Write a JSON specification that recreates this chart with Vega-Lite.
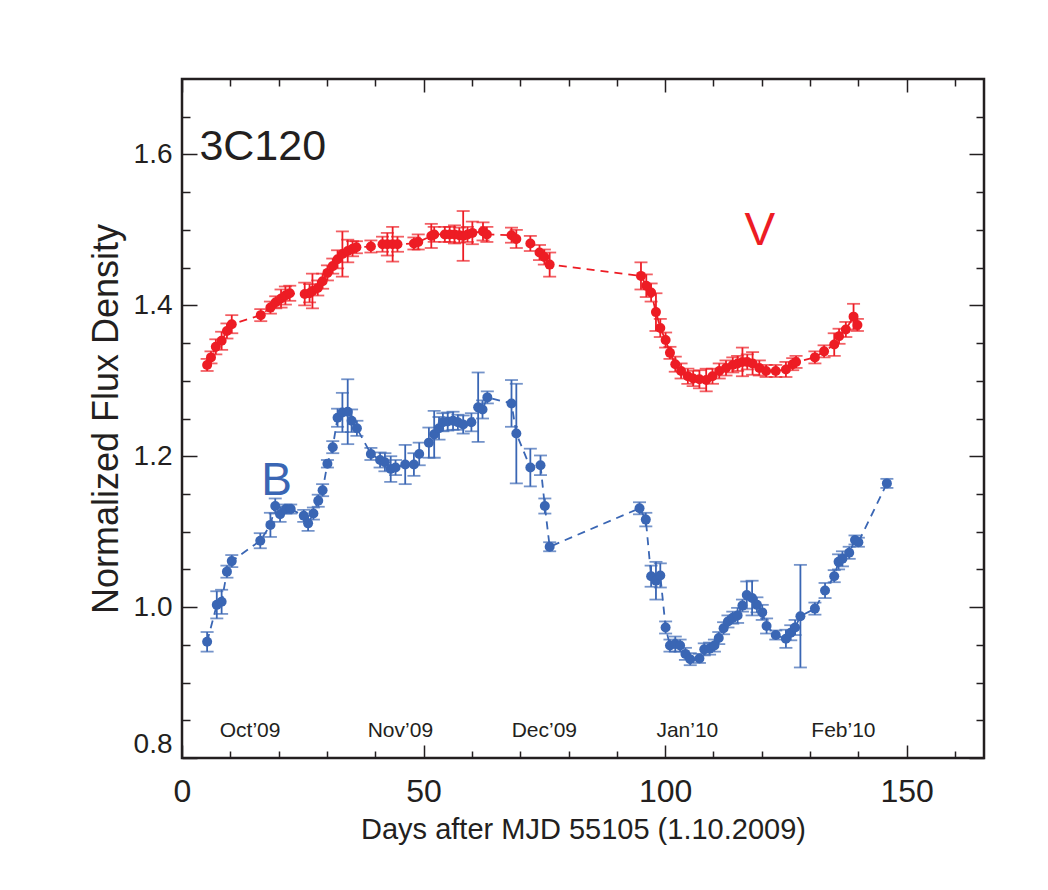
{
  "$schema": "https://vega.github.io/schema/vega-lite/v6.json",
  "width": 802,
  "height": 679,
  "autosize": {"type": "none"},
  "padding": {"left": 182, "top": 79, "right": 64, "bottom": 132},
  "background": "white",
  "config": {
    "view": {"stroke": "#231F20", "strokeWidth": 2.5},
    "font": "Liberation Sans, Arial, sans-serif",
    "axis": {"grid": false, "domain": false, "tickColor": "#231F20", "tickWidth": 1.5, "labelColor": "#231F20", "titleColor": "#231F20", "labelFont": "Liberation Sans, Arial, sans-serif", "titleFont": "Liberation Sans, Arial, sans-serif", "titleFontWeight": "normal"}
  },
  "datasets": {
    "flux": [
      {"s":"V","day":5.2,"val":1.321,"err":0.008},
      {"s":"V","day":6.0,"val":1.331,"err":0.008},
      {"s":"V","day":7.0,"val":1.345,"err":0.010},
      {"s":"V","day":8.2,"val":1.353,"err":0.012},
      {"s":"V","day":9.3,"val":1.366,"err":0.010},
      {"s":"V","day":10.3,"val":1.375,"err":0.012},
      {"s":"V","day":16.3,"val":1.387,"err":0.008},
      {"s":"V","day":18.3,"val":1.397,"err":0.008},
      {"s":"V","day":19.4,"val":1.404,"err":0.008},
      {"s":"V","day":20.5,"val":1.409,"err":0.012},
      {"s":"V","day":21.4,"val":1.413,"err":0.012},
      {"s":"V","day":22.3,"val":1.416,"err":0.010},
      {"s":"V","day":25.4,"val":1.415,"err":0.015},
      {"s":"V","day":26.4,"val":1.416,"err":0.012},
      {"s":"V","day":27.0,"val":1.419,"err":0.023},
      {"s":"V","day":28.1,"val":1.423,"err":0.010},
      {"s":"V","day":29.1,"val":1.432,"err":0.010},
      {"s":"V","day":30.1,"val":1.443,"err":0.010},
      {"s":"V","day":31.2,"val":1.452,"err":0.010},
      {"s":"V","day":32.2,"val":1.461,"err":0.012},
      {"s":"V","day":33.2,"val":1.468,"err":0.030},
      {"s":"V","day":34.3,"val":1.472,"err":0.015},
      {"s":"V","day":35.3,"val":1.475,"err":0.010},
      {"s":"V","day":36.1,"val":1.477,"err":0.008},
      {"s":"V","day":39.1,"val":1.478,"err":0.008},
      {"s":"V","day":41.5,"val":1.481,"err":0.010},
      {"s":"V","day":42.5,"val":1.481,"err":0.015},
      {"s":"V","day":43.6,"val":1.481,"err":0.023},
      {"s":"V","day":44.6,"val":1.481,"err":0.010},
      {"s":"V","day":48.0,"val":1.482,"err":0.008},
      {"s":"V","day":48.9,"val":1.484,"err":0.010},
      {"s":"V","day":51.6,"val":1.492,"err":0.016},
      {"s":"V","day":52.2,"val":1.494,"err":0.010},
      {"s":"V","day":54.4,"val":1.494,"err":0.010},
      {"s":"V","day":55.4,"val":1.494,"err":0.010},
      {"s":"V","day":56.4,"val":1.494,"err":0.012},
      {"s":"V","day":57.4,"val":1.493,"err":0.010},
      {"s":"V","day":58.2,"val":1.492,"err":0.033},
      {"s":"V","day":59.1,"val":1.494,"err":0.010},
      {"s":"V","day":60.1,"val":1.496,"err":0.015},
      {"s":"V","day":62.3,"val":1.498,"err":0.012},
      {"s":"V","day":63.1,"val":1.494,"err":0.010},
      {"s":"V","day":68.2,"val":1.493,"err":0.010},
      {"s":"V","day":69.2,"val":1.488,"err":0.012},
      {"s":"V","day":72.1,"val":1.482,"err":0.010},
      {"s":"V","day":74.0,"val":1.470,"err":0.010},
      {"s":"V","day":75.0,"val":1.464,"err":0.010},
      {"s":"V","day":76.1,"val":1.454,"err":0.016},
      {"s":"V","day":95.0,"val":1.439,"err":0.018},
      {"s":"V","day":96.1,"val":1.426,"err":0.015},
      {"s":"V","day":97.1,"val":1.417,"err":0.012},
      {"s":"V","day":98.1,"val":1.391,"err":0.025},
      {"s":"V","day":99.0,"val":1.370,"err":0.012},
      {"s":"V","day":100.1,"val":1.354,"err":0.010},
      {"s":"V","day":101.0,"val":1.337,"err":0.008},
      {"s":"V","day":102.1,"val":1.322,"err":0.010},
      {"s":"V","day":103.3,"val":1.313,"err":0.010},
      {"s":"V","day":104.7,"val":1.306,"err":0.010},
      {"s":"V","day":105.8,"val":1.303,"err":0.010},
      {"s":"V","day":107.1,"val":1.302,"err":0.012},
      {"s":"V","day":108.5,"val":1.301,"err":0.015},
      {"s":"V","day":109.8,"val":1.306,"err":0.010},
      {"s":"V","day":111.2,"val":1.313,"err":0.010},
      {"s":"V","day":112.6,"val":1.317,"err":0.010},
      {"s":"V","day":114.0,"val":1.321,"err":0.010},
      {"s":"V","day":115.0,"val":1.323,"err":0.010},
      {"s":"V","day":116.0,"val":1.325,"err":0.019},
      {"s":"V","day":117.0,"val":1.325,"err":0.010},
      {"s":"V","day":118.1,"val":1.323,"err":0.015},
      {"s":"V","day":119.5,"val":1.317,"err":0.010},
      {"s":"V","day":120.9,"val":1.313,"err":0.008},
      {"s":"V","day":122.9,"val":1.313,"err":0.008},
      {"s":"V","day":125.0,"val":1.315,"err":0.010},
      {"s":"V","day":126.4,"val":1.322,"err":0.008},
      {"s":"V","day":127.1,"val":1.325,"err":0.008},
      {"s":"V","day":131.0,"val":1.331,"err":0.008},
      {"s":"V","day":132.9,"val":1.339,"err":0.008},
      {"s":"V","day":135.0,"val":1.348,"err":0.015},
      {"s":"V","day":136.0,"val":1.359,"err":0.010},
      {"s":"V","day":137.4,"val":1.368,"err":0.010},
      {"s":"V","day":139.0,"val":1.385,"err":0.017},
      {"s":"V","day":139.8,"val":1.374,"err":0.008},
      {"s":"B","day":5.2,"val":0.954,"err":0.013},
      {"s":"B","day":7.2,"val":1.003,"err":0.018},
      {"s":"B","day":8.2,"val":1.007,"err":0.016},
      {"s":"B","day":9.3,"val":1.047,"err":0.008},
      {"s":"B","day":10.3,"val":1.061,"err":0.008},
      {"s":"B","day":16.2,"val":1.088,"err":0.010},
      {"s":"B","day":18.3,"val":1.109,"err":0.016},
      {"s":"B","day":19.3,"val":1.134,"err":0.010},
      {"s":"B","day":20.3,"val":1.123,"err":0.010},
      {"s":"B","day":21.5,"val":1.130,"err":0.006},
      {"s":"B","day":22.5,"val":1.130,"err":0.006},
      {"s":"B","day":25.2,"val":1.121,"err":0.008},
      {"s":"B","day":26.1,"val":1.111,"err":0.010},
      {"s":"B","day":27.2,"val":1.124,"err":0.008},
      {"s":"B","day":28.2,"val":1.141,"err":0.008},
      {"s":"B","day":29.1,"val":1.155,"err":0.008},
      {"s":"B","day":30.1,"val":1.190,"err":0.005},
      {"s":"B","day":31.2,"val":1.212,"err":0.008},
      {"s":"B","day":32.2,"val":1.251,"err":0.012},
      {"s":"B","day":33.2,"val":1.258,"err":0.026},
      {"s":"B","day":34.3,"val":1.259,"err":0.043},
      {"s":"B","day":35.1,"val":1.247,"err":0.015},
      {"s":"B","day":36.2,"val":1.237,"err":0.010},
      {"s":"B","day":39.1,"val":1.203,"err":0.008},
      {"s":"B","day":41.0,"val":1.195,"err":0.010},
      {"s":"B","day":42.0,"val":1.192,"err":0.012},
      {"s":"B","day":43.2,"val":1.183,"err":0.017},
      {"s":"B","day":44.2,"val":1.185,"err":0.010},
      {"s":"B","day":46.2,"val":1.189,"err":0.026},
      {"s":"B","day":48.0,"val":1.189,"err":0.015},
      {"s":"B","day":49.1,"val":1.203,"err":0.015},
      {"s":"B","day":51.1,"val":1.218,"err":0.020},
      {"s":"B","day":52.2,"val":1.229,"err":0.031},
      {"s":"B","day":53.2,"val":1.237,"err":0.015},
      {"s":"B","day":54.0,"val":1.245,"err":0.012},
      {"s":"B","day":55.0,"val":1.246,"err":0.012},
      {"s":"B","day":56.1,"val":1.247,"err":0.012},
      {"s":"B","day":57.1,"val":1.245,"err":0.010},
      {"s":"B","day":58.2,"val":1.242,"err":0.012},
      {"s":"B","day":59.9,"val":1.245,"err":0.012},
      {"s":"B","day":61.3,"val":1.265,"err":0.046},
      {"s":"B","day":62.2,"val":1.262,"err":0.012},
      {"s":"B","day":63.2,"val":1.278,"err":0.008},
      {"s":"B","day":68.2,"val":1.270,"err":0.031},
      {"s":"B","day":69.2,"val":1.230,"err":0.066},
      {"s":"B","day":72.1,"val":1.185,"err":0.025},
      {"s":"B","day":74.2,"val":1.188,"err":0.013},
      {"s":"B","day":75.1,"val":1.134,"err":0.010},
      {"s":"B","day":76.1,"val":1.080,"err":0.006},
      {"s":"B","day":94.7,"val":1.131,"err":0.008},
      {"s":"B","day":96.0,"val":1.116,"err":0.009},
      {"s":"B","day":97.1,"val":1.041,"err":0.014},
      {"s":"B","day":98.1,"val":1.035,"err":0.025},
      {"s":"B","day":99.0,"val":1.042,"err":0.016},
      {"s":"B","day":100.1,"val":0.973,"err":0.008},
      {"s":"B","day":101.0,"val":0.949,"err":0.008},
      {"s":"B","day":102.1,"val":0.951,"err":0.010},
      {"s":"B","day":103.1,"val":0.949,"err":0.008},
      {"s":"B","day":104.2,"val":0.938,"err":0.008},
      {"s":"B","day":105.2,"val":0.931,"err":0.008},
      {"s":"B","day":107.1,"val":0.932,"err":0.006},
      {"s":"B","day":108.1,"val":0.944,"err":0.008},
      {"s":"B","day":109.2,"val":0.945,"err":0.008},
      {"s":"B","day":110.2,"val":0.949,"err":0.008},
      {"s":"B","day":111.1,"val":0.959,"err":0.008},
      {"s":"B","day":112.1,"val":0.972,"err":0.008},
      {"s":"B","day":113.0,"val":0.981,"err":0.008},
      {"s":"B","day":114.0,"val":0.986,"err":0.008},
      {"s":"B","day":115.0,"val":0.989,"err":0.010},
      {"s":"B","day":116.0,"val":1.002,"err":0.008},
      {"s":"B","day":116.9,"val":1.016,"err":0.018},
      {"s":"B","day":118.0,"val":1.012,"err":0.023},
      {"s":"B","day":119.0,"val":1.003,"err":0.010},
      {"s":"B","day":120.1,"val":0.993,"err":0.010},
      {"s":"B","day":121.0,"val":0.975,"err":0.010},
      {"s":"B","day":122.9,"val":0.963,"err":0.006},
      {"s":"B","day":125.0,"val":0.958,"err":0.012},
      {"s":"B","day":126.0,"val":0.966,"err":0.010},
      {"s":"B","day":126.9,"val":0.973,"err":0.010},
      {"s":"B","day":128.0,"val":0.988,"err":0.068},
      {"s":"B","day":131.0,"val":0.998,"err":0.008},
      {"s":"B","day":133.1,"val":1.022,"err":0.010},
      {"s":"B","day":135.0,"val":1.041,"err":0.008},
      {"s":"B","day":135.9,"val":1.060,"err":0.010},
      {"s":"B","day":136.7,"val":1.064,"err":0.010},
      {"s":"B","day":138.1,"val":1.072,"err":0.008},
      {"s":"B","day":139.3,"val":1.089,"err":0.006},
      {"s":"B","day":140.0,"val":1.086,"err":0.006},
      {"s":"B","day":145.9,"val":1.164,"err":0.006}
    ],
    "months": [
      {"text":"Oct’09","day":14.1,"val":0.828},
      {"text":"Nov’09","day":45.2,"val":0.828},
      {"text":"Dec’09","day":75.0,"val":0.828},
      {"text":"Jan’10","day":104.6,"val":0.828},
      {"text":"Feb’10","day":136.9,"val":0.828}
    ],
    "source": [
      {"text":"3C120","day":3.6,"val":1.593}
    ],
    "bands": [
      {"s":"V","day":119.6,"val":1.480},
      {"s":"B","day":19.6,"val":1.149}
    ]
  },
  "layer": [
    {
      "data": {"name": "flux"},
      "mark": {"type": "errorbar", "ticks": true, "size": 13, "thickness": 1.8},
      "encoding": {
        "x": {"field": "day", "type": "quantitative", "scale": {"domain": [0, 166], "nice": false, "zero": false},
              "axis": {"orient": "bottom", "values": [0, 50, 100, 150], "tickSize": -13, "labelFontSize": 32, "labelFlush": false, "labelPadding": 31, "title": "Days after MJD 55105 (1.10.2009)", "titleFontSize": 29, "titlePadding": 8}},
        "y": {"field": "val", "type": "quantitative", "scale": {"domain": [0.8, 1.7], "nice": false, "zero": false},
              "axis": {"orient": "left", "values": [0.8, 1.0, 1.2, 1.4, 1.6], "format": ".1f", "tickSize": -15, "labelFontSize": 28, "labelPadding": 25, "labelFlush": true, "title": "Normalized Flux Density", "titleFontSize": 36, "titlePadding": 8}},
        "yError": {"field": "err"},
        "color": {"field": "s", "type": "nominal", "scale": {"domain": ["V", "B"], "range": ["#ED1C24", "#3A66B4"]}, "legend": null}
      }
    },
    {
      "data": {"name": "flux"},
      "mark": {"type": "line", "strokeDash": [8, 6], "strokeWidth": 1.8},
      "encoding": {
        "x": {"field": "day", "type": "quantitative",
              "axis": {"orient": "bottom", "values": [10, 20, 30, 40, 60, 70, 80, 90, 110, 120, 130, 140, 160], "tickSize": -7, "labels": false, "title": null}},
        "y": {"field": "val", "type": "quantitative",
              "axis": {"orient": "left", "values": [0.85, 0.9, 0.95, 1.05, 1.1, 1.15, 1.25, 1.3, 1.35, 1.45, 1.5, 1.55, 1.65], "tickSize": -8, "labels": false, "title": null}},
        "color": {"field": "s", "type": "nominal", "legend": null}
      }
    },
    {
      "data": {"name": "flux"},
      "mark": {"type": "point", "filled": true, "shape": "circle", "size": 100, "opacity": 1},
      "encoding": {
        "x": {"field": "day", "type": "quantitative",
              "axis": {"orient": "top", "values": [0, 50, 100, 150], "tickSize": -13, "labels": false, "title": null}},
        "y": {"field": "val", "type": "quantitative",
              "axis": {"orient": "right", "values": [0.8, 1.0, 1.2, 1.4, 1.6], "tickSize": -15, "labels": false, "title": null}},
        "color": {"field": "s", "type": "nominal", "legend": null}
      }
    },
    {
      "data": {"name": "months"},
      "mark": {"type": "text", "fontSize": 21, "align": "center", "baseline": "alphabetic", "color": "#231F20"},
      "encoding": {
        "x": {"field": "day", "type": "quantitative",
              "axis": {"orient": "top", "values": [10, 20, 30, 40, 60, 70, 80, 90, 110, 120, 130, 140, 160], "tickSize": -7, "labels": false, "title": null}},
        "y": {"field": "val", "type": "quantitative",
              "axis": {"orient": "right", "values": [0.85, 0.9, 0.95, 1.05, 1.1, 1.15, 1.25, 1.3, 1.35, 1.45, 1.5, 1.55, 1.65], "tickSize": -8, "labels": false, "title": null}},
        "text": {"field": "text"}
      }
    },
    {
      "data": {"name": "source"},
      "mark": {"type": "text", "fontSize": 43, "align": "left", "baseline": "alphabetic", "color": "#231F20"},
      "encoding": {
        "x": {"field": "day", "type": "quantitative", "axis": null},
        "y": {"field": "val", "type": "quantitative", "axis": null},
        "text": {"field": "text"}
      }
    },
    {
      "data": {"name": "bands"},
      "mark": {"type": "text", "fontSize": 46, "align": "center", "baseline": "alphabetic"},
      "encoding": {
        "x": {"field": "day", "type": "quantitative", "axis": null},
        "y": {"field": "val", "type": "quantitative", "axis": null},
        "text": {"field": "s"},
        "color": {"field": "s", "type": "nominal", "legend": null}
      }
    }
  ],
  "resolve": {"axis": {"x": "independent", "y": "independent"}}
}
